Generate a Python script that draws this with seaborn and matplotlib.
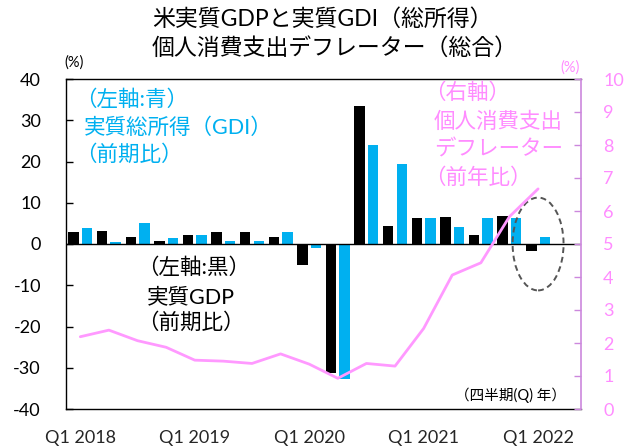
import numpy as np
import pandas as pd
import matplotlib
matplotlib.use("Agg")
import matplotlib.pyplot as plt
from matplotlib.patches import Ellipse
import seaborn as sns

quarters = ["Q1 2018", "Q2 2018", "Q3 2018", "Q4 2018",
            "Q1 2019", "Q2 2019", "Q3 2019", "Q4 2019",
            "Q1 2020", "Q2 2020", "Q3 2020", "Q4 2020",
            "Q1 2021", "Q2 2021", "Q3 2021", "Q4 2021",
            "Q1 2022"]
gdp = [3.0, 3.1, 1.8, 0.8, 2.2, 3.0, 2.8, 1.8, -5.1, -31.2, 33.5, 4.4, 6.2, 6.6, 2.3, 6.9, -1.7]
gdi = [3.8, 0.6, 5.0, 1.4, 2.2, 0.8, 0.8, 2.8, -0.9, -32.8, 24.1, 19.4, 6.2, 4.2, 6.2, 6.2, 1.6]
pce = [2.19, 2.39, 2.07, 1.87, 1.48, 1.45, 1.38, 1.67, 1.36, 0.93, 1.38, 1.30, 2.44, 4.06, 4.43, 5.83, 6.67]
left_ticks = [40, 30, 20, 10, 0, -10, -20, -30, -40]
right_ticks = list(range(0, 11))

BLUE = "#00b0f0"
PINK = "#ff99ff"
PINK_TXT = "#ff8cff"

sns.set_style("ticks")
plt.rcParams["font.family"] = ["Lato", "Noto Sans CJK JP", "DejaVu Sans"]

df = pd.DataFrame({
    "q": quarters * 2,
    "val": gdp + gdi,
    "series": ["GDP"] * len(quarters) + ["GDI"] * len(quarters),
})

W, H = 639, 446
fig = plt.figure(figsize=(W / 100, H / 100), dpi=100)
ax = fig.add_axes([66 / W, 1 - 409 / H, (581 - 66) / W, (409 - 79) / H])

sns.barplot(data=df, x="q", y="val", hue="series", order=quarters,
            hue_order=["GDP", "GDI"], palette={"GDP": "black", "GDI": BLUE},
            width=0.95, gap=0.23, dodge=True, legend=False, ax=ax,
            saturation=1, edgecolor="none")
ax.axhline(0, color="black", lw=1.0, zorder=3)
ax.set_xlim(-0.5, len(quarters) + 0.5)
ax.set_ylim(-40, 40)
ax.set_yticks(left_ticks)
ax.set_yticklabels([str(t) for t in left_ticks])
ax.set_xticks([i for i, q in enumerate(quarters) if q.startswith("Q1")])
ax.set_xticklabels([q for q in quarters if q.startswith("Q1")])
ax.set_xlabel("")
ax.set_ylabel("")
ax.tick_params(axis="y", direction="in", length=5, width=1, pad=18, labelsize=13, colors="black")
ax.tick_params(axis="x", length=0, pad=15, labelsize=13)
for s in ["left", "bottom", "top"]:
    ax.spines[s].set_color("black")
    ax.spines[s].set_linewidth(1)
ax.spines["right"].set_visible(False)

ell = Ellipse((16, 0), width=1.78, height=22.5, fill=False, ls=(0, (3, 2)),
              lw=1.4, edgecolor="#555555", zorder=5)
ax.add_patch(ell)

ax2 = ax.twinx()
sns.lineplot(x=np.arange(len(pce)), y=pce, ax=ax2, color=PINK, lw=2)
ax2.set_ylim(0, 10)
ax2.set_yticks(right_ticks)
ax2.set_ylabel("")
ax2.tick_params(axis="y", direction="in", length=5, width=1, pad=16, labelsize=13,
                colors="#cc88dd", labelcolor=PINK_TXT)
for s in ["left", "bottom", "top"]:
    ax2.spines[s].set_visible(False)
ax2.spines["right"].set_color("#cc88dd")
ax2.spines["right"].set_linewidth(1.2)

def ftext(x, y, s, **kw):
    fig.text(x / W, 1 - y / H, s, va="center", **kw)

ftext(152, 19, "米実質GDPと実質GDI（総所得）", ha="left", fontsize=16.5, color="black")
ftext(152, 48, "個人消費支出デフレーター（総合）", ha="left", fontsize=16.5, color="black")

fs = 15.5
ftext(75, 100, "（左軸:青）", ha="left", fontsize=fs, color=BLUE)
ftext(84, 128, "実質総所得（GDI）", ha="left", fontsize=fs, color=BLUE)
ftext(75, 155, "（前期比）", ha="left", fontsize=fs, color=BLUE)

ftext(137, 268, "（左軸:黒）", ha="left", fontsize=fs, color="black")
ftext(147, 297, "実質GDP", ha="left", fontsize=fs, color="black")
ftext(137, 323, "（前期比）", ha="left", fontsize=fs, color="black")

ftext(424, 93, "（右軸）", ha="left", fontsize=fs, color=PINK_TXT)
ftext(434, 122, "個人消費支出", ha="left", fontsize=fs, color=PINK_TXT)
ftext(434, 150, "デフレーター", ha="left", fontsize=fs, color=PINK_TXT)
ftext(424, 178, "（前年比）", ha="left", fontsize=fs, color=PINK_TXT)

ftext(64, 63, "(%)", ha="left", fontsize=10.5, color="black")
ftext(560, 68, "(%)", ha="left", fontsize=10.5, color=PINK_TXT)
ftext(566, 395, "（四半期(Q) 年）", ha="right", fontsize=10.5, color="black")

fig.savefig("out.png", dpi=100)
